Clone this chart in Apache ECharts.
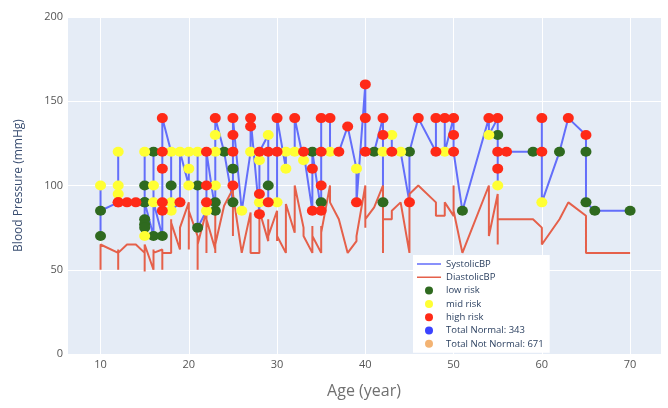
<!DOCTYPE html>
<html>
<head>
<meta charset="utf-8">
<script src="https://cdn.jsdelivr.net/npm/echarts@6/dist/echarts.min.js"></script>
<style>
  html, body { margin: 0; padding: 0; background: #fff; }
  #main { width: 668px; height: 408px; }
</style>
</head>
<body>
<div id="main"></div>
<script>
// one entry per patient record, sorted by age
var ages = [
  10, 10, 10,
  12, 12, 12, 12, 12,
  13, 14,
  15, 15, 15, 15, 15, 15, 15, 15,
  16, 16, 16, 16,
  17, 17, 17, 17, 17, 17,
  18, 18, 18, 18,
  19, 19,
  20, 20, 20,
  21, 21, 21,
  22, 22, 22, 22,
  23, 23, 23, 23, 23, 23,
  24,
  25, 25, 25, 25, 25, 25,
  26,
  27, 27, 27,
  28, 28, 28, 28, 28,
  29, 29, 29, 29,
  30, 30, 30,
  31, 31,
  32, 32,
  33, 33,
  34, 34, 34,
  35, 35, 35, 35, 35,
  36, 36,
  37, 38,
  39, 39,
  40, 40, 40,
  41,
  42, 42, 42, 42,
  43, 43,
  44,
  45, 45,
  46,
  48, 48,
  49, 49,
  50, 50, 50,
  51,
  54, 54,
  55, 55, 55, 55, 55,
  56, 59,
  60, 60, 60,
  62, 63,
  65, 65, 65,
  66, 70
];
var systolicBP = [
  100, 70, 85,
  90, 120, 100, 95, 90,
  90, 90,
  90, 120, 100, 80, 77, 75, 70, 90,
  70, 100, 120, 90,
  70, 85, 90, 110, 120, 140,
  120, 100, 90, 85,
  90, 120,
  100, 110, 120,
  120, 100, 75,
  85, 90, 100, 120,
  85, 90, 100, 120, 130, 140,
  120,
  90, 100, 110, 120, 130, 140,
  85,
  120, 135, 140,
  83, 90, 95, 115, 120,
  130, 120, 100, 90,
  90, 120, 140,
  110, 120,
  120, 140,
  115, 120,
  85, 110, 120,
  85, 90, 100, 120, 140,
  140, 120,
  120, 135,
  110, 90,
  160, 140, 120,
  120,
  140, 90, 120, 130,
  130, 120,
  120,
  90, 120,
  140,
  120, 140,
  140, 120,
  140, 130, 120,
  85,
  140, 130,
  140, 130, 110, 100, 120,
  120, 120,
  120, 140, 90,
  120, 140,
  130, 120, 90,
  85, 85
];
var diastolicBP = [
  60, 50, 65,
  60, 50, 62, 60, 60,
  65, 65,
  60, 49, 62, 55, 50, 58, 60, 65,
  50, 62, 60, 60,
  62, 50, 60, 60, 60, 60,
  60, 80, 72, 78,
  62, 75,
  90, 62, 85,
  70, 50, 65,
  85, 90, 60, 80,
  62, 80, 90, 70, 60, 65,
  88,
  98, 70, 75, 80, 85, 95,
  60,
  84, 80, 60,
  60, 60, 60, 80, 85,
  67, 80, 75, 70,
  85, 67, 70,
  60, 89,
  72, 100,
  75, 70,
  60, 76, 70,
  60, 76, 65, 70, 72,
  100, 90,
  80, 60,
  67, 70,
  100, 75, 80,
  87,
  100, 60, 80, 80,
  80, 85,
  90,
  60, 95,
  100,
  90, 82,
  82, 90,
  82, 100, 85,
  60,
  100, 70,
  95, 90, 80, 65, 80,
  80, 80,
  75, 70, 65,
  80, 90,
  82, 80, 60,
  60, 60
];
var riskLevel = [
  'mid', 'low', 'low',
  'high', 'mid', 'mid', 'mid', 'high',
  'high', 'high',
  'low', 'mid', 'low', 'low', 'low', 'low', 'mid', 'low',
  'low', 'mid', 'low', 'mid',
  'low', 'high', 'high', 'high', 'high', 'high',
  'mid', 'low', 'mid', 'mid',
  'high', 'mid',
  'mid', 'mid', 'mid',
  'mid', 'low', 'low',
  'mid', 'high', 'high', 'high',
  'low', 'low', 'mid', 'mid', 'mid', 'high',
  'low',
  'low', 'high', 'low', 'high', 'high', 'high',
  'mid',
  'mid', 'high', 'high',
  'high', 'mid', 'high', 'mid', 'high',
  'mid', 'high', 'low', 'high',
  'mid', 'high', 'high',
  'mid', 'mid',
  'mid', 'high',
  'mid', 'high',
  'high', 'high', 'low',
  'high', 'low', 'high', 'high', 'high',
  'high', 'mid',
  'high', 'high',
  'mid', 'high',
  'high', 'high', 'high',
  'low',
  'high', 'low', 'mid', 'high',
  'mid', 'high',
  'mid',
  'high', 'low',
  'high',
  'high', 'high',
  'high', 'mid',
  'high', 'high', 'high',
  'low',
  'high', 'mid',
  'high', 'low', 'high', 'mid', 'high',
  'high', 'low',
  'high', 'high', 'mid',
  'low', 'high',
  'high', 'low', 'low',
  'low', 'low'
];
var riskNames = ['low risk', 'mid risk', 'high risk'];
var riskKeys = ['low', 'mid', 'high'];
var riskColors = ['#2f6a1f', '#ffff33', '#ff2a17'];
var totalNormal = 343;
var totalNotNormal = 671;

// plain stroke for the line entries in the legend (tiny corner dots keep the box 24x8)
var lineIcon = 'path://M0,0L0.01,0L0,0.01Z M0,3.2L24,3.2L24,4.8L0,4.8Z M23.99,8L24,8L24,7.99Z';

function pairs(values) {
  var out = [];
  for (var i = 0; i < ages.length; ++i) {
    out.push([ages[i], values[i]]);
  }
  return out;
}

function riskPoints(key) {
  var out = [];
  for (var i = 0; i < ages.length; ++i) {
    if (riskLevel[i] === key) {
      out.push([ages[i], systolicBP[i]]);
    }
  }
  return out;
}

var series = [{
  name: 'SystolicBP',
  type: 'line',
  data: pairs(systolicBP),
  symbol: 'none',
  color: '#636efa',
  lineStyle: { width: 2 },
  z: 2
}, {
  name: 'DiastolicBP',
  type: 'line',
  data: pairs(diastolicBP),
  symbol: 'none',
  color: '#e5604a',
  lineStyle: { width: 2 },
  z: 2
}];
for (var r = 0; r < riskKeys.length; ++r) {
  series.push({
    name: riskNames[r],
    type: 'scatter',
    data: riskPoints(riskKeys[r]),
    symbolSize: [11, 10],
    color: riskColors[r],
    itemStyle: { opacity: 1 },
    z: 3
  });
}
// summary entries only show in the legend
series.push({
  name: 'Total Normal: ' + totalNormal,
  type: 'scatter',
  data: [],
  color: '#0a14ff'
}, {
  name: 'Total Not Normal: ' + totalNotNormal,
  type: 'scatter',
  data: [],
  color: '#f0a050'
});

var chart = echarts.init(document.getElementById('main'));
chart.setOption({
  animation: false,
  backgroundColor: '#fff',
  textStyle: { fontFamily: 'Open Sans, Noto Sans, sans-serif' },
  grid: {
    left: 67, right: 7, top: 17, bottom: 54,
    show: true, backgroundColor: '#e5ecf6', borderWidth: 0
  },
  legend: {
    orient: 'vertical',
    left: 413,
    top: 255,
    backgroundColor: '#fff',
    padding: [4, 6, 4, 4],
    itemWidth: 24,
    itemHeight: 8,
    itemGap: 3.3,
    textStyle: { fontSize: 9.5, color: '#2a3f5f' },
    data: [
      { name: 'SystolicBP', icon: lineIcon },
      { name: 'DiastolicBP', icon: lineIcon },
      { name: 'low risk', icon: 'circle' },
      { name: 'mid risk', icon: 'circle' },
      { name: 'high risk', icon: 'circle' },
      { name: 'Total Normal: ' + totalNormal, icon: 'circle' },
      { name: 'Total Not Normal: ' + totalNotNormal, icon: 'circle' }
    ]
  },
  xAxis: {
    type: 'value',
    min: 6.2,
    max: 73.5,
    name: 'Age (year)',
    nameLocation: 'middle',
    nameGap: 29,
    nameTextStyle: { fontSize: 16, color: '#707070' },
    axisLine: { show: false },
    axisTick: { show: false },
    axisLabel: { color: '#555', fontSize: 11, margin: 5, showMinLabel: false, showMaxLabel: false },
    splitLine: { lineStyle: { color: '#fff', width: 1 } }
  },
  yAxis: {
    type: 'value',
    min: 0,
    max: 200,
    interval: 50,
    name: 'Blood Pressure (mmHg)',
    nameLocation: 'middle',
    nameGap: 42,
    nameTextStyle: { fontSize: 12, color: '#3b4f72' },
    axisLine: { show: false },
    axisTick: { show: false },
    axisLabel: { color: '#555', fontSize: 11, margin: 4 },
    splitLine: { lineStyle: { color: '#fff', width: 1 } }
  },
  series: series
});
</script>
</body>
</html>
